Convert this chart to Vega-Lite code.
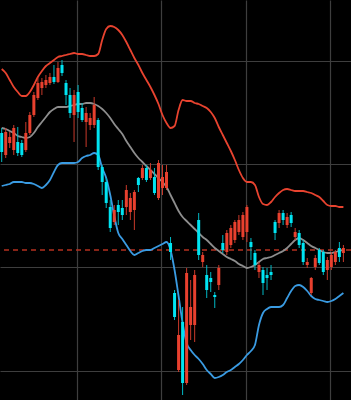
{
  "$schema": "https://vega.github.io/schema/vega-lite/v6.json",
  "width": 351,
  "height": 400,
  "autosize": {"type": "none"},
  "padding": 0,
  "background": "#000000",
  "config": {
    "view": {"stroke": null},
    "scale": {"continuousPadding": 0},
    "axis": {"labels": false, "ticks": false, "domain": false, "grid": true, "gridColor": "#3e3e3e", "gridWidth": 1.2, "gridOpacity": 1}
  },
  "data": {"values": [
    {"i":0,"o":267,"h":272,"l":238,"c":248,"up":331,"mid":272,"lo":214},
    {"i":1,"o":245,"h":272,"l":242,"c":268,"up":327,"mid":271,"lo":215},
    {"i":2,"o":257,"h":268,"l":252,"c":263,"up":320,"mid":269,"lo":216},
    {"i":3,"o":250,"h":275,"l":245,"c":272,"up":313,"mid":267,"lo":218},
    {"i":4,"o":258,"h":273,"l":244,"c":247,"up":308,"mid":264,"lo":218},
    {"i":5,"o":257,"h":260,"l":243,"c":245,"up":304,"mid":263,"lo":218},
    {"i":6,"o":250,"h":278,"l":248,"c":267,"up":304,"mid":262,"lo":217},
    {"i":7,"o":267,"h":288,"l":265,"c":285,"up":308,"mid":263,"lo":217},
    {"i":8,"o":285,"h":308,"l":283,"c":305,"up":315,"mid":267,"lo":216},
    {"i":9,"o":302,"h":322,"l":300,"c":317,"up":323,"mid":273,"lo":214},
    {"i":10,"o":312,"h":322,"l":305,"c":318,"up":329,"mid":278,"lo":212},
    {"i":11,"o":315,"h":325,"l":312,"c":320,"up":334,"mid":283,"lo":215},
    {"i":12,"o":317,"h":327,"l":315,"c":323,"up":337,"mid":288,"lo":220},
    {"i":13,"o":323,"h":335,"l":316,"c":318,"up":340,"mid":291,"lo":228},
    {"i":14,"o":318,"h":338,"l":317,"c":332,"up":343,"mid":293,"lo":235},
    {"i":15,"o":335,"h":340,"l":324,"c":327,"up":344,"mid":293,"lo":237},
    {"i":16,"o":317,"h":320,"l":295,"c":305,"up":345,"mid":293,"lo":237},
    {"i":17,"o":305,"h":312,"l":282,"c":287,"up":346,"mid":294,"lo":237},
    {"i":18,"o":285,"h":310,"l":258,"c":305,"up":347,"mid":295,"lo":237},
    {"i":19,"o":308,"h":315,"l":282,"c":288,"up":346,"mid":296,"lo":238},
    {"i":20,"o":292,"h":297,"l":278,"c":280,"up":346,"mid":296,"lo":242},
    {"i":21,"o":278,"h":293,"l":253,"c":287,"up":345,"mid":297,"lo":244},
    {"i":22,"o":275,"h":287,"l":270,"c":282,"up":344,"mid":297,"lo":245},
    {"i":23,"o":275,"h":303,"l":272,"c":295,"up":344,"mid":296,"lo":247},
    {"i":24,"o":280,"h":282,"l":230,"c":233,"up":346,"mid":294,"lo":245},
    {"i":25,"o":233,"h":235,"l":205,"c":218,"up":360,"mid":291,"lo":232},
    {"i":26,"o":218,"h":222,"l":192,"c":197,"up":371,"mid":287,"lo":222},
    {"i":27,"o":193,"h":200,"l":168,"c":172,"up":374,"mid":282,"lo":205},
    {"i":28,"o":178,"h":195,"l":175,"c":190,"up":373,"mid":276,"lo":184},
    {"i":29,"o":195,"h":200,"l":175,"c":188,"up":370,"mid":271,"lo":167},
    {"i":30,"o":192,"h":200,"l":180,"c":185,"up":365,"mid":266,"lo":161},
    {"i":31,"o":193,"h":215,"l":185,"c":210,"up":358,"mid":259,"lo":155},
    {"i":32,"o":188,"h":207,"l":180,"c":202,"up":350,"mid":253,"lo":149},
    {"i":33,"o":190,"h":210,"l":170,"c":208,"up":342,"mid":247,"lo":145},
    {"i":34,"o":222,"h":223,"l":208,"c":215,"up":335,"mid":242,"lo":147},
    {"i":35,"o":222,"h":235,"l":220,"c":232,"up":327,"mid":238,"lo":149},
    {"i":36,"o":232,"h":235,"l":218,"c":220,"up":320,"mid":234,"lo":150},
    {"i":37,"o":222,"h":237,"l":220,"c":230,"up":313,"mid":230,"lo":150},
    {"i":38,"o":223,"h":232,"l":205,"c":207,"up":305,"mid":226,"lo":152},
    {"i":39,"o":202,"h":240,"l":200,"c":237,"up":296,"mid":222,"lo":154},
    {"i":40,"o":212,"h":235,"l":205,"c":223,"up":285,"mid":218,"lo":156},
    {"i":41,"o":212,"h":235,"l":210,"c":228,"up":277,"mid":213,"lo":158},
    {"i":42,"o":157,"h":163,"l":140,"c":148,"up":272,"mid":205,"lo":150},
    {"i":43,"o":107,"h":110,"l":80,"c":83,"up":274,"mid":197,"lo":130},
    {"i":44,"o":30,"h":100,"l":28,"c":65,"up":290,"mid":189,"lo":104},
    {"i":45,"o":78,"h":93,"l":5,"c":17,"up":300,"mid":183,"lo":77},
    {"i":46,"o":17,"h":132,"l":15,"c":127,"up":299,"mid":179,"lo":57},
    {"i":47,"o":75,"h":120,"l":60,"c":93,"up":299,"mid":175,"lo":50},
    {"i":48,"o":75,"h":130,"l":58,"c":125,"up":297,"mid":171,"lo":45},
    {"i":49,"o":180,"h":187,"l":140,"c":145,"up":296,"mid":167,"lo":41},
    {"i":50,"o":138,"h":148,"l":133,"c":145,"up":294,"mid":163,"lo":36},
    {"i":51,"o":125,"h":135,"l":102,"c":110,"up":292,"mid":160,"lo":30},
    {"i":52,"o":122,"h":128,"l":108,"c":118,"up":288,"mid":156,"lo":26},
    {"i":53,"o":105,"h":108,"l":92,"c":103,"up":282,"mid":152,"lo":22},
    {"i":54,"o":115,"h":135,"l":110,"c":132,"up":273,"mid":149,"lo":23},
    {"i":55,"o":157,"h":165,"l":147,"c":150,"up":265,"mid":146,"lo":25},
    {"i":56,"o":148,"h":170,"l":145,"c":167,"up":257,"mid":143,"lo":28},
    {"i":57,"o":155,"h":175,"l":152,"c":172,"up":249,"mid":141,"lo":30},
    {"i":58,"o":160,"h":180,"l":157,"c":178,"up":240,"mid":139,"lo":33},
    {"i":59,"o":168,"h":185,"l":165,"c":180,"up":230,"mid":136,"lo":36},
    {"i":60,"o":163,"h":188,"l":160,"c":185,"up":222,"mid":134,"lo":40},
    {"i":61,"o":168,"h":195,"l":158,"c":193,"up":218,"mid":132,"lo":45},
    {"i":62,"o":158,"h":162,"l":140,"c":153,"up":218,"mid":133,"lo":49},
    {"i":63,"o":147,"h":150,"l":130,"c":135,"up":215,"mid":135,"lo":55},
    {"i":64,"o":128,"h":138,"l":122,"c":135,"up":203,"mid":138,"lo":75},
    {"i":65,"o":130,"h":133,"l":105,"c":117,"up":196,"mid":141,"lo":87},
    {"i":66,"o":125,"h":132,"l":110,"c":122,"up":195,"mid":142,"lo":91},
    {"i":67,"o":128,"h":135,"l":120,"c":125,"up":198,"mid":143,"lo":93},
    {"i":68,"o":178,"h":180,"l":160,"c":167,"up":203,"mid":145,"lo":93},
    {"i":69,"o":177,"h":190,"l":172,"c":187,"up":207,"mid":147,"lo":93},
    {"i":70,"o":187,"h":190,"l":175,"c":180,"up":210,"mid":149,"lo":95},
    {"i":71,"o":175,"h":187,"l":172,"c":183,"up":211,"mid":152,"lo":102},
    {"i":72,"o":185,"h":188,"l":173,"c":177,"up":210,"mid":156,"lo":109},
    {"i":73,"o":163,"h":172,"l":160,"c":168,"up":209,"mid":160,"lo":114},
    {"i":74,"o":167,"h":170,"l":152,"c":155,"up":209,"mid":162,"lo":115},
    {"i":75,"o":157,"h":160,"l":135,"c":138,"up":209,"mid":160,"lo":113},
    {"i":76,"o":135,"h":142,"l":132,"c":138,"up":208,"mid":157,"lo":109},
    {"i":77,"o":107,"h":123,"l":105,"c":122,"up":207,"mid":154,"lo":104},
    {"i":78,"o":133,"h":145,"l":130,"c":142,"up":205,"mid":152,"lo":101},
    {"i":79,"o":150,"h":152,"l":135,"c":137,"up":203,"mid":150,"lo":100},
    {"i":80,"o":148,"h":150,"l":125,"c":128,"up":199,"mid":148,"lo":99},
    {"i":81,"o":130,"h":143,"l":120,"c":140,"up":195,"mid":147,"lo":98},
    {"i":82,"o":133,"h":148,"l":130,"c":145,"up":194,"mid":147,"lo":99},
    {"i":83,"o":138,"h":150,"l":135,"c":148,"up":194,"mid":148,"lo":101},
    {"i":84,"o":152,"h":158,"l":138,"c":143,"up":193,"mid":149,"lo":104},
    {"i":85,"o":147,"h":155,"l":138,"c":152,"up":193,"mid":150,"lo":107}
  ]},
  "layer": [
    {
      "data": {"values": [{"level": 150}]},
      "mark": {"type": "rule", "color": "#b5301f", "strokeWidth": 1.3, "strokeDash": [5, 4]},
      "encoding": {
        "y": {"field": "level", "type": "quantitative", "scale": {"domain": [0, 400], "nice": false, "zero": false}, "axis": {"values": [29, 133, 236, 339], "title": null}}
      }
    },
    {
      "mark": {"type": "line", "color": "#e8432f", "strokeWidth": 1.8, "interpolate": "monotone"},
      "encoding": {
        "x": {"field": "i", "type": "quantitative", "scale": {"domain": [-0.423, 86.89], "nice": false, "zero": false, "padding": 0}, "axis": {"values": [18.73, 39.63, 60.8, 81.7], "title": null}},
        "y": {"field": "up", "type": "quantitative", "scale": {"domain": [0, 400], "nice": false, "zero": false}, "axis": {"values": [29, 133, 236, 339], "title": null}}
      }
    },
    {
      "mark": {"type": "line", "color": "#8e8e8e", "strokeWidth": 1.8, "interpolate": "monotone"},
      "encoding": {
        "x": {"field": "i", "type": "quantitative", "scale": {"domain": [-0.423, 86.89], "nice": false, "zero": false, "padding": 0}, "axis": {"values": [18.73, 39.63, 60.8, 81.7], "title": null}},
        "y": {"field": "mid", "type": "quantitative", "scale": {"domain": [0, 400], "nice": false, "zero": false}, "axis": {"values": [29, 133, 236, 339], "title": null}}
      }
    },
    {
      "mark": {"type": "line", "color": "#3a9be2", "strokeWidth": 1.8, "interpolate": "monotone"},
      "encoding": {
        "x": {"field": "i", "type": "quantitative", "scale": {"domain": [-0.423, 86.89], "nice": false, "zero": false, "padding": 0}, "axis": {"values": [18.73, 39.63, 60.8, 81.7], "title": null}},
        "y": {"field": "lo", "type": "quantitative", "scale": {"domain": [0, 400], "nice": false, "zero": false}, "axis": {"values": [29, 133, 236, 339], "title": null}}
      }
    },
    {
      "mark": {"type": "rule", "strokeWidth": 1},
      "encoding": {
        "x": {"field": "i", "type": "quantitative", "scale": {"domain": [-0.423, 86.89], "nice": false, "zero": false, "padding": 0}, "axis": {"values": [18.73, 39.63, 60.8, 81.7], "title": null}},
        "y": {"field": "l", "type": "quantitative", "scale": {"domain": [0, 400], "nice": false, "zero": false}, "axis": {"values": [29, 133, 236, 339], "title": null}},
        "y2": {"field": "h"},
        "color": {"condition": {"test": "datum.c >= datum.o", "value": "#c8392a"}, "value": "#00b8c4"}
      }
    },
    {
      "mark": {"type": "bar", "width": 3},
      "encoding": {
        "x": {"field": "i", "type": "quantitative", "scale": {"domain": [-0.423, 86.89], "nice": false, "zero": false, "padding": 0}, "axis": {"values": [18.73, 39.63, 60.8, 81.7], "title": null}},
        "y": {"field": "o", "type": "quantitative", "scale": {"domain": [0, 400], "nice": false, "zero": false}, "axis": {"values": [29, 133, 236, 339], "title": null}},
        "y2": {"field": "c"},
        "color": {"condition": {"test": "datum.c >= datum.o", "value": "#e8402e"}, "value": "#00e4f2"}
      }
    }
  ]
}
